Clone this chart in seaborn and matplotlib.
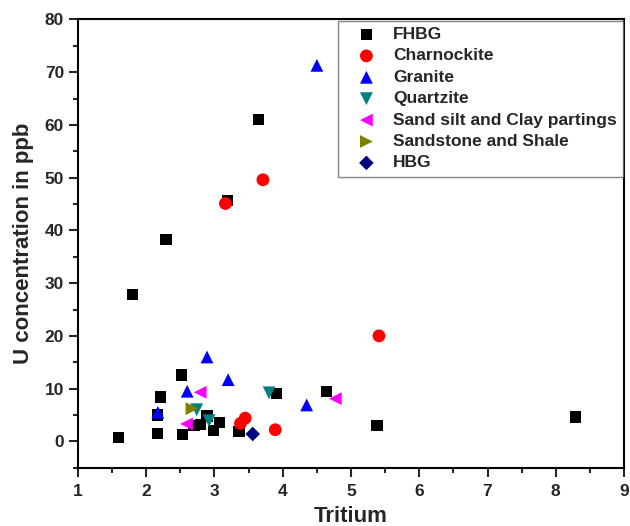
import numpy as np
import pandas as pd
import matplotlib
matplotlib.use("Agg")
import matplotlib.pyplot as plt
import seaborn as sns

# ---- data ----
fhbg_x = [1.59, 1.80, 2.21, 2.16, 2.17, 2.29, 2.52, 2.53, 2.70, 2.80, 2.89, 2.98, 3.07, 3.36, 3.91, 4.64, 5.38, 3.19, 3.65, 8.29]
fhbg_y = [0.8, 27.9, 8.4, 5.0, 1.5, 38.2, 12.6, 1.3, 3.0, 3.2, 4.8, 2.1, 3.5, 1.8, 9.1, 9.4, 3.0, 45.7, 61.1, 4.6]
char_x = [3.16, 3.71, 5.41, 3.45, 3.38, 3.89]
char_y = [45.1, 49.6, 20.0, 4.4, 3.4, 2.2]
gran_x = [4.50, 2.89, 3.20, 2.60, 2.17, 4.35]
gran_y = [71.3, 16.0, 11.7, 9.5, 5.5, 6.9]
quar_x = [3.80, 2.74, 2.92]
quar_y = [9.2, 6.0, 3.9]
sand_x = [2.79, 2.59, 4.77]
sand_y = [9.3, 3.3, 8.1]
ssh_x = [2.67]
ssh_y = [6.2]
hbg_x = [3.56]
hbg_y = [1.4]

groups = ["FHBG", "Charnockite", "Granite", "Quartzite",
          "Sand silt and Clay partings", "Sandstone and Shale", "HBG"]
xs = [fhbg_x, char_x, gran_x, quar_x, sand_x, ssh_x, hbg_x]
ys = [fhbg_y, char_y, gran_y, quar_y, sand_y, ssh_y, hbg_y]
colors = ["#000000", "#FF0000", "#0000FF", "#008080", "#FF00FF", "#808000", "#000080"]
markers = ["s", "o", "^", "v", "<", ">", "D"]

x_ticks = [1, 2, 3, 4, 5, 6, 7, 8, 9]
y_ticks = [0, 10, 20, 30, 40, 50, 60, 70, 80]

df = pd.concat([pd.DataFrame({"Tritium": x, "U": y, "Rock": g})
                for g, x, y in zip(groups, xs, ys)], ignore_index=True)

sns.set_style("ticks")
plt.rcParams["font.family"] = ["Liberation Sans", "DejaVu Sans"]
plt.rcParams["font.weight"] = "bold"

fig = plt.figure(figsize=(6.3, 5.26), dpi=100)
ax = fig.add_axes([0.1238, 0.1108, 0.8667, 0.8522])

sizes = {"FHBG": 65, "Charnockite": 85, "Granite": 85, "Quartzite": 85,
         "Sand silt and Clay partings": 85, "Sandstone and Shale": 85, "HBG": 55}
for g, c, m in zip(groups, colors, markers):
    sub = df[df["Rock"] == g]
    sns.scatterplot(data=sub, x="Tritium", y="U", color=c, marker=m, s=sizes[g],
                    edgecolor="none", linewidth=0, label=g, ax=ax, zorder=3)

ax.set_xlim(1, 9)
ax.set_ylim(-5, 80)
ax.set_xticks(x_ticks)
ax.set_yticks(y_ticks)
ax.set_xticks(np.arange(1.5, 9, 1.0), minor=True)
ax.set_yticks(np.arange(-5, 80, 10), minor=True)
ax.tick_params(axis="both", which="major", direction="out", length=6.5, width=1.5,
               labelsize=12.5, top=False, right=False)
ax.tick_params(axis="x", which="major", pad=5)
ax.tick_params(axis="both", which="minor", direction="out", length=3.5, width=1.5,
               top=False, right=False)
for lab in ax.get_xticklabels() + ax.get_yticklabels():
    lab.set_fontweight("bold")
for sp in ax.spines.values():
    sp.set_visible(True)
    sp.set_linewidth(1.5)
    sp.set_color("black")

ax.set_xlabel("Tritium", fontsize=16, fontweight="bold", labelpad=5)
ax.set_ylabel("U concentration in ppb", fontsize=16, fontweight="bold", labelpad=8)

leg = ax.legend(loc="upper left", bbox_to_anchor=(0.4757, 0.997), borderaxespad=0,
                fancybox=False, frameon=True, prop={"size": 12.5, "weight": "bold"},
                labelspacing=0.36, handletextpad=0.25, borderpad=0.35,
                markerscale=1.0, handlelength=2.6)
leg.get_frame().set_edgecolor("#666666")
leg.get_frame().set_linewidth(1.0)

fig.savefig("out.png", dpi=100)
